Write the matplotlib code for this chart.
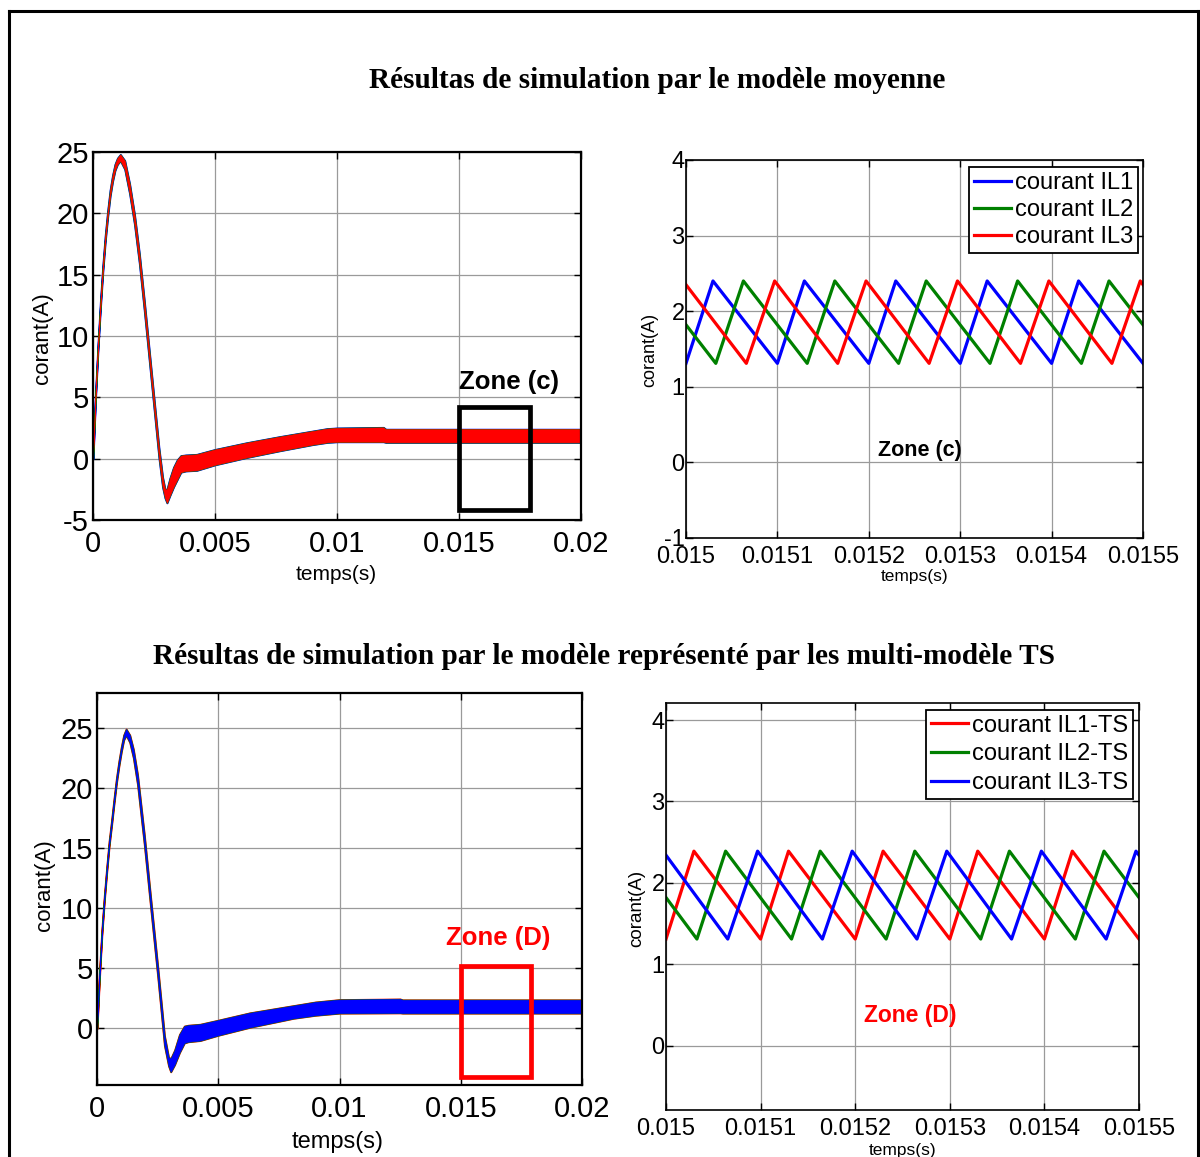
import matplotlib
matplotlib.use("Agg")
import matplotlib.pyplot as plt
from matplotlib import font_manager
from matplotlib.patches import Rectangle
from matplotlib.lines import Line2D

W, H = 1200, 1157

# Full run 0..0.02 s, average model: upper / lower edge of the ripple band (A)
t_avg = [0, 0.0001, 0.0002, 0.0003, 0.0004, 0.0005, 0.0006, 0.0007, 0.0008, 0.0009,
         0.0010, 0.00112, 0.0013, 0.0015, 0.0017, 0.0019, 0.0021, 0.0023, 0.0025, 0.0027,
         0.00285, 0.00295, 0.00303, 0.00315, 0.0033, 0.00345, 0.0036, 0.0038, 0.00425,
         0.0050, 0.0063, 0.00766, 0.0090, 0.0096, 0.0100, 0.0119, 0.0120, 0.0200]
avg_hi = [0.3, 5.2, 9.2, 12.7, 15.7, 18.2, 20.2, 21.9, 23.1, 24.0,
          24.5, 24.8, 24.3, 22.4, 19.9, 16.7, 12.9, 8.9, 4.9, 0.9,
          -1.5, -2.5, -2.5, -1.6, -0.7, -0.1, 0.25, 0.3, 0.35,
          0.75, 1.3, 1.8, 2.25, 2.45, 2.5, 2.55, 2.4, 2.4]
avg_lo = [0.0, 4.8, 8.8, 12.2, 15.2, 17.7, 19.7, 21.4, 22.6, 23.5,
          24.0, 24.3, 23.6, 21.6, 19.1, 15.9, 12.1, 8.1, 4.1, 0.1,
          -2.3, -3.2, -3.6, -3.0, -2.3, -1.7, -1.1, -1.0, -0.95,
          -0.5, 0.1, 0.65, 1.15, 1.33, 1.38, 1.38, 1.33, 1.33]

# Full run, TS multi-model
t_ts = [0, 0.0001, 0.0002, 0.0003, 0.0004, 0.0005, 0.0006, 0.0007, 0.0008, 0.0009,
        0.0010, 0.0011, 0.0012, 0.00135, 0.0015, 0.00167, 0.00195, 0.00223, 0.00251,
        0.00278, 0.00295, 0.00304, 0.0032, 0.0034, 0.0036, 0.00376, 0.00425, 0.0050,
        0.0063, 0.0081, 0.0090, 0.0100, 0.0125, 0.0126, 0.0200]
ts_hi = [0.3, 4.6, 8.2, 11.0, 13.4, 15.6, 17.3, 19.1, 20.8, 22.2,
         23.4, 24.4, 24.9, 24.4, 23.2, 21.1, 16.1, 10.5, 5.0,
         -0.6, -2.4, -2.5, -1.8, -0.5, 0.2, 0.27, 0.35, 0.69,
         1.3, 1.9, 2.2, 2.4, 2.45, 2.38, 2.38]
ts_lo = [0.0, 4.2, 7.8, 10.6, 13.0, 15.2, 16.9, 18.7, 20.4, 21.8,
         23.0, 24.0, 24.4, 23.8, 22.5, 20.3, 15.3, 9.7, 4.2,
         -1.4, -3.1, -3.6, -3.0, -2.0, -1.2, -1.1, -1.0, -0.56,
         0.1, 0.85, 1.1, 1.28, 1.3, 1.28, 1.28]

# Zoom 0.015..0.0155 s, average model: ripple vertices
il1_t = [0.0150000, 0.0150295, 0.0151000, 0.0151295, 0.0152000, 0.0152295,
         0.0153000, 0.0153295, 0.0154000, 0.0154295, 0.0155000]
il1_v = [1.31, 2.40, 1.31, 2.40, 1.31, 2.40, 1.31, 2.40, 1.31, 2.40, 1.31]
il2_t = [0.0150000, 0.0150326, 0.0150628, 0.0151326, 0.0151628, 0.0152326,
         0.0152628, 0.0153326, 0.0153628, 0.0154326, 0.0154628, 0.0155000]
il2_v = [1.82, 1.31, 2.40, 1.31, 2.40, 1.31, 2.40, 1.31, 2.40, 1.31, 2.40, 1.82]
il3_t = [0.0150000, 0.0150660, 0.0150970, 0.0151660, 0.0151970, 0.0152660,
         0.0152970, 0.0153660, 0.0153970, 0.0154660, 0.0154970, 0.0155000]
il3_v = [2.35, 1.31, 2.40, 1.31, 2.40, 1.31, 2.40, 1.31, 2.40, 1.31, 2.40, 2.35]

# Zoom 0.015..0.0155 s, TS multi-model
ts1_t = [0.0150000, 0.0150295, 0.0151000, 0.0151295, 0.0152000, 0.0152295,
         0.0153000, 0.0153295, 0.0154000, 0.0154295, 0.0155000]
ts1_v = [1.31, 2.39, 1.31, 2.39, 1.31, 2.39, 1.31, 2.39, 1.31, 2.39, 1.31]
ts2_t = [0.0150000, 0.0150327, 0.0150630, 0.0151327, 0.0151630, 0.0152327,
         0.0152630, 0.0153327, 0.0153630, 0.0154327, 0.0154630, 0.0155000]
ts2_v = [1.82, 1.31, 2.39, 1.31, 2.39, 1.31, 2.39, 1.31, 2.39, 1.31, 2.39, 1.82]
ts3_t = [0.0150000, 0.0150653, 0.0150968, 0.0151653, 0.0151968, 0.0152653,
         0.0152968, 0.0153653, 0.0153968, 0.0154653, 0.0154968, 0.0155000]
ts3_v = [2.34, 1.31, 2.39, 1.31, 2.39, 1.31, 2.39, 1.31, 2.39, 1.31, 2.39, 2.34]

full_ticks = [0, 0.005, 0.01, 0.015, 0.02]
full_labels = ["0", "0.005", "0.01", "0.015", "0.02"]
zoom_ticks = [0.015, 0.0151, 0.0152, 0.0153, 0.0154, 0.0155]
zoom_labels = ["0.015", "0.0151", "0.0152", "0.0153", "0.0154", "0.0155"]

BLUE, GREEN, RED = "#0000ff", "#008000", "#ff0000"

names = {f.name for f in font_manager.fontManager.ttflist}
NARROW = "Liberation Sans Narrow" if "Liberation Sans Narrow" in names else "Liberation Sans"
plt.rcParams["font.family"] = "Liberation Sans"
plt.rcParams["axes.unicode_minus"] = False


def box(l, t, r, b):
    """Pixel box (left, top, right, bottom) -> figure rect."""
    return [l / W, 1 - b / H, (r - l) / W, (b - t) / H]


def fpos(x, y):
    return x / W, 1 - y / H


def matlab_axes(ax, size, family, pad_x, pad_y, spine_w):
    ax.tick_params(direction="in", top=True, right=True, length=5, width=1,
                   labelsize=size, labelfontfamily=family)
    ax.tick_params(axis="x", pad=pad_x)
    ax.tick_params(axis="y", pad=pad_y)
    ax.grid(True, color="#9a9a9a", lw=0.9)
    ax.set_axisbelow(True)
    for s in ax.spines.values():
        s.set_linewidth(spine_w)


fig = plt.figure(figsize=(W / 100, H / 100), dpi=100)

# page frame
fx0, fx1, fy0 = 8.5 / W, 1197.5 / W, 1 - 10.5 / H
for xs, ys in [([fx0, fx0], [-0.01, fy0]), ([fx0, fx1], [fy0, fy0]), ([fx1, fx1], [fy0, -0.01])]:
    fig.add_artist(Line2D(xs, ys, color="black", lw=2.2, transform=fig.transFigure))

renderer = fig.canvas.get_renderer()


def fit_width(txt, width_px):
    w = txt.get_window_extent(renderer=renderer).width
    txt.set_fontsize(txt.get_fontsize() * width_px / w)


t1 = fig.text(*fpos(657, 80), "Résultas de simulation par le modèle moyenne",
              family="Liberation Serif", weight="bold", fontsize=16, ha="center", va="center")
fit_width(t1, 577)
t2 = fig.text(*fpos(604, 657), "Résultas de simulation par le modèle représenté par les multi-modèle TS",
              family="Liberation Serif", weight="bold", fontsize=16, ha="center", va="center")
fit_width(t2, 906)

# ---- top left: full run, average model
ax = fig.add_axes(box(93, 152, 581, 520))
ax.fill_between(t_avg, avg_lo, avg_hi, color=BLUE, lw=1.4)
ax.fill_between(t_avg, avg_lo, avg_hi, color=GREEN, lw=1.0)
ax.fill_between(t_avg, avg_lo, avg_hi, color=RED, lw=0.4)
ax.set_xlim(0, 0.02)
ax.set_ylim(-5, 25)
ax.set_xticks(full_ticks, full_labels)
ax.set_yticks([-5, 0, 5, 10, 15, 20, 25])
matlab_axes(ax, 21, NARROW, 7, 3, 1.6)
ax.add_patch(Rectangle((0.015, -4.2), 0.0029, 8.4, fill=False, ec="black", lw=3.4))
ax.text(0.015, 6.25, "Zone (c)", family=NARROW, weight="bold", fontsize=18.5,
        ha="left", va="center")
fig.text(*fpos(42, 338), "corant(A)", rotation=90, fontsize=16, ha="center", va="center")
fig.text(*fpos(336, 575), "temps(s)", fontsize=15, ha="center", va="center")

# ---- top right: zoom, average model
ax = fig.add_axes(box(686, 160, 1143, 538))
ax.plot(il1_t, il1_v, color=BLUE, lw=2.3, label="courant IL1")
ax.plot(il2_t, il2_v, color=GREEN, lw=2.3, label="courant IL2")
ax.plot(il3_t, il3_v, color=RED, lw=2.3, label="courant IL3")
ax.set_xlim(0.015, 0.0155)
ax.set_ylim(-1, 4)
ax.set_xticks(zoom_ticks, zoom_labels)
ax.set_yticks([-1, 0, 1, 2, 3, 4])
matlab_axes(ax, 17, "Liberation Sans", 6, 1, 1.2)
ax.text(0.015256, 0.16, "Zone (c)", weight="bold", fontsize=15.5, ha="center", va="center")
leg = ax.legend(loc="upper right", bbox_to_anchor=(0.989, 0.981), borderaxespad=0,
                fontsize=17, handlelength=1.6, handletextpad=0.15, labelspacing=0.22,
                borderpad=0.2, fancybox=False, framealpha=1, edgecolor="black")
leg.get_frame().set_linewidth(1.3)
fig.text(*fpos(650, 350), "corant(A)", rotation=90, fontsize=13, ha="center", va="center")
fig.text(*fpos(915, 577), "temps(s)", fontsize=12.5, ha="center", va="center")

# ---- bottom left: full run, TS multi-model
ax = fig.add_axes(box(97, 693, 582, 1085))
ax.fill_between(t_ts, ts_lo, ts_hi, color=RED, lw=1.4)
ax.fill_between(t_ts, ts_lo, ts_hi, color=GREEN, lw=1.0)
ax.fill_between(t_ts, ts_lo, ts_hi, color=BLUE, lw=0.4)
ax.set_xlim(0, 0.02)
ax.set_ylim(-4.7, 27.9)
ax.set_xticks(full_ticks, full_labels)
ax.set_yticks([0, 5, 10, 15, 20, 25])
matlab_axes(ax, 21, NARROW, 7, 3, 1.6)
ax.add_patch(Rectangle((0.015, -4.05), 0.0029, 9.25, fill=False, ec=RED, lw=3.4))
ax.text(0.016536, 7.5, "Zone (D)", family=NARROW, weight="bold", fontsize=18.5, color=RED,
        ha="center", va="center")
fig.text(*fpos(45, 885), "corant(A)", rotation=90, fontsize=16, family=NARROW,
         ha="center", va="center")
fig.text(*fpos(338, 1142), "temps(s)", fontsize=17, family=NARROW, ha="center", va="center")

# ---- bottom right: zoom, TS multi-model
ax = fig.add_axes(box(666, 703, 1139, 1110))
ax.plot(ts1_t, ts1_v, color=RED, lw=2.3, label="courant IL1-TS")
ax.plot(ts2_t, ts2_v, color=GREEN, lw=2.3, label="courant IL2-TS")
ax.plot(ts3_t, ts3_v, color=BLUE, lw=2.3, label="courant IL3-TS")
ax.set_xlim(0.015, 0.0155)
ax.set_ylim(-0.79, 4.21)
ax.set_xticks(zoom_ticks, zoom_labels)
ax.set_yticks([0, 1, 2, 3, 4])
matlab_axes(ax, 17, "Liberation Sans", 6, 1, 1.2)
ax.text(0.015258, 0.37, "Zone (D)", weight="bold", fontsize=16.5, color=RED,
        ha="center", va="center")
leg = ax.legend(loc="upper right", bbox_to_anchor=(0.987, 0.983), borderaxespad=0,
                fontsize=17, handlelength=1.6, handletextpad=0.15, labelspacing=0.28,
                borderpad=0.2, fancybox=False, framealpha=1, edgecolor="black")
leg.get_frame().set_linewidth(1.3)
fig.text(*fpos(637, 908), "corant(A)", rotation=90, fontsize=13.5, ha="center", va="center")
fig.text(*fpos(903, 1150), "temps(s)", fontsize=12.5, ha="center", va="center")

fig.savefig("out.png", dpi=100)
plt.close(fig)
